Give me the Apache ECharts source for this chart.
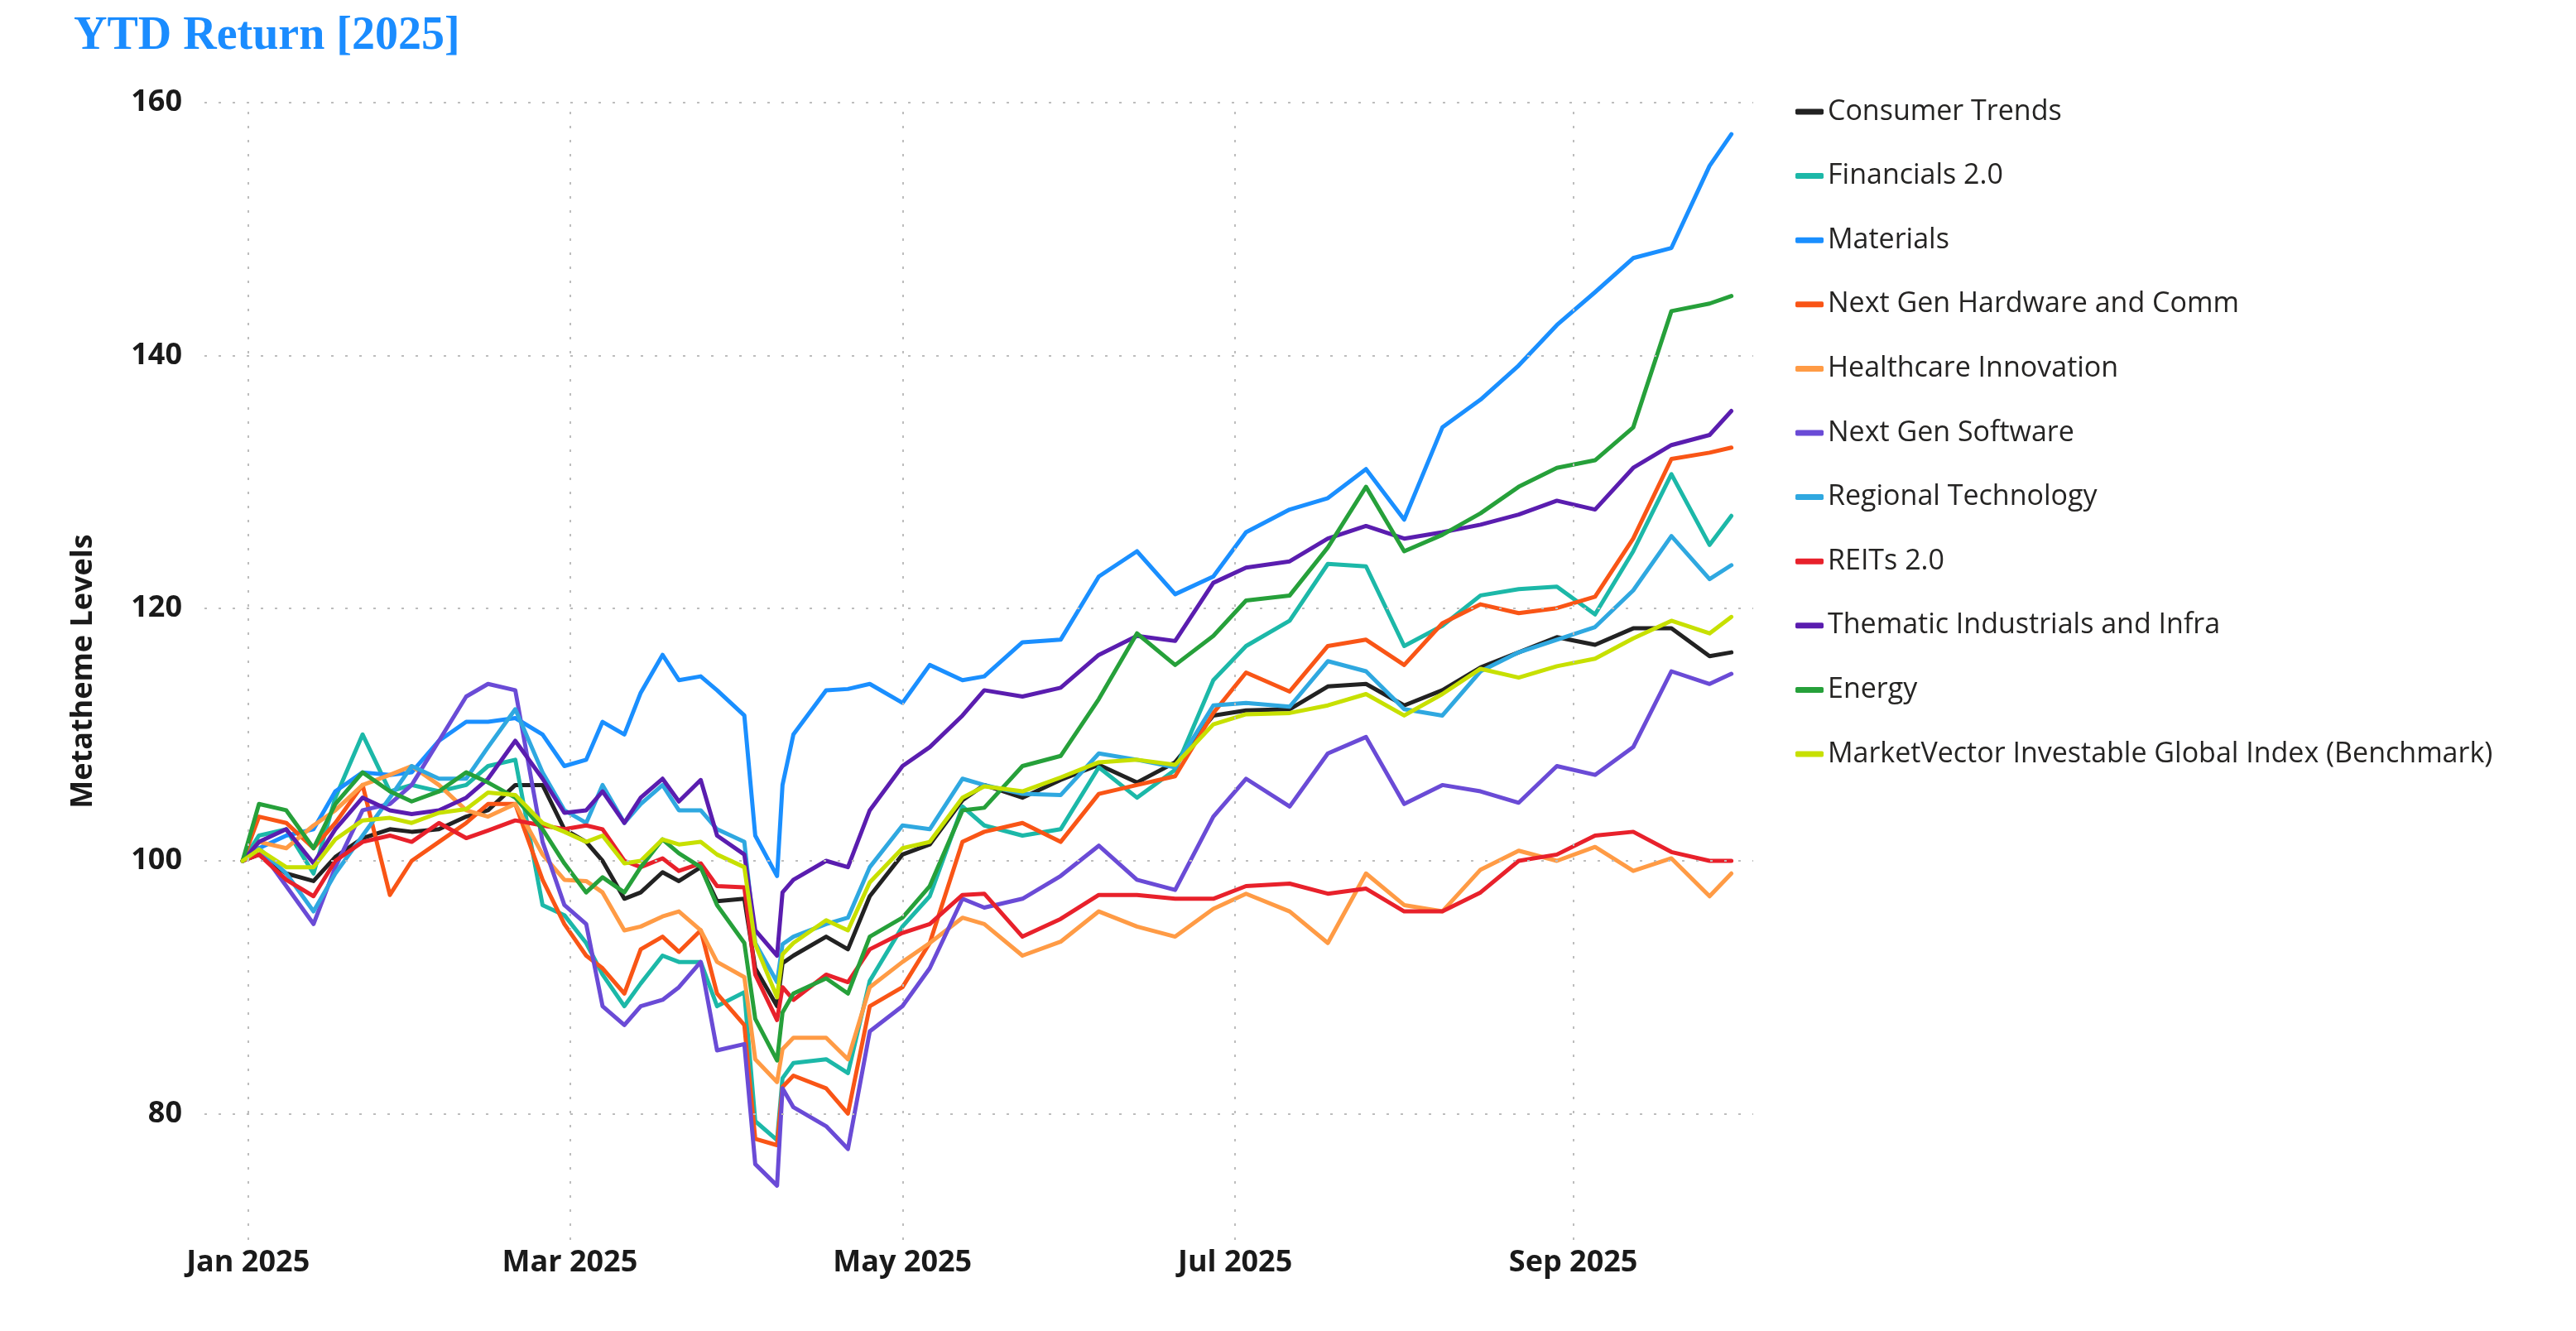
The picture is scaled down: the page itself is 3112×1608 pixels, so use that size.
<!DOCTYPE html>
<html>
<head>
<meta charset="utf-8">
<script src="https://cdn.jsdelivr.net/npm/echarts@6/dist/echarts.min.js"></script>
<style>
html,body{margin:0;padding:0;background:#fff;}
#c{width:3112px;height:1608px;}
</style>
</head>
<body>
<div id="c"></div>
<script>
// ---- data ----
const dates = ['2024-12-31','2025-01-03','2025-01-08','2025-01-13','2025-01-17','2025-01-22','2025-01-27','2025-01-31','2025-02-05','2025-02-10','2025-02-14','2025-02-19','2025-02-24','2025-02-28','2025-03-04','2025-03-07','2025-03-11','2025-03-14','2025-03-18','2025-03-21','2025-03-25','2025-03-28','2025-04-02','2025-04-04','2025-04-08','2025-04-09','2025-04-11','2025-04-17','2025-04-21','2025-04-25','2025-05-01','2025-05-06','2025-05-12','2025-05-16','2025-05-23','2025-05-30','2025-06-06','2025-06-13','2025-06-20','2025-06-27','2025-07-03','2025-07-11','2025-07-18','2025-07-25','2025-08-01','2025-08-08','2025-08-15','2025-08-22','2025-08-29','2025-09-05','2025-09-12','2025-09-19','2025-09-26','2025-09-30'];

const consumerTrends = [100,100.5,99,98.4,100.3,101.8,102.5,102.3,102.5,103.5,104,106,106,102.5,101.5,100,97,97.5,99.1,98.4,99.5,96.8,97,91.5,88.5,91.9,92.5,94,93,97.2,100.5,101.3,104.8,106,105,106.4,107.6,106.2,107.8,111.5,111.9,112,113.8,114,112.3,113.5,115.3,116.5,117.7,117.1,118.4,118.4,116.2,116.5];
const financials20 = [100,102,102.5,99,105,110,105.5,106,105.5,106,107.5,108,96.5,95.7,93.5,91,88.5,90.3,92.5,92,92,88.5,89.6,79.4,77.9,82.8,84,84.3,83.2,90.5,94.8,97.2,104.3,102.8,102,102.5,107.4,105,107.2,114.3,117,119,123.5,123.3,117,118.6,121,121.5,121.7,119.5,124.5,130.6,125,127.3];
const materials = [100,101,102,102.5,105.5,107,106.8,107,109.5,111,111,111.3,110,107.5,108,111,110,113.3,116.3,114.3,114.6,113.5,111.5,102,98.8,106,110,113.5,113.6,114,112.5,115.5,114.3,114.6,117.3,117.5,122.5,124.5,121.1,122.5,126,127.8,128.7,131,127,134.3,136.5,139.2,142.4,145,147.7,148.5,155,157.5];
const nextGenHardware = [100,103.5,103,101,103,106,97.3,100,101.5,103,104.5,104.5,98.5,95,92.5,91.5,89.5,93,94,92.8,94.5,89.5,87,78,77.5,82.1,83,82,80,88.5,90,93.5,101.5,102.3,103,101.5,105.3,106,106.7,111.7,114.9,113.4,117,117.5,115.5,118.8,120.3,119.6,120,120.9,125.5,131.8,132.3,132.7];
const healthcareInnovation = [100,101.5,101,102.8,104,106,106.8,107.5,106,104,103.5,104.5,100.5,98.5,98.4,97.5,94.5,94.8,95.6,96,94.5,92,90.8,84.3,82.5,85.1,86,86,84.3,90,92,93.5,95.5,95,92.5,93.6,96,94.8,94,96.2,97.4,96,93.5,99,96.5,96,99.3,100.8,100,101.1,99.2,100.2,97.2,99];
const nextGenSoftware = [100,101,98,95,99.5,104,104.5,106,109.5,113,114,113.5,101.5,96.5,95,88.5,87,88.5,89,90,92,85,85.5,76,74.3,82,80.5,79,77.2,86.5,88.5,91.5,97,96.3,97,98.8,101.2,98.5,97.7,103.5,106.5,104.3,108.5,109.8,104.5,106,105.5,104.6,107.5,106.8,109,115,114,114.8];
const regionalTechnology = [100,101,99,96,99,102,105,107.5,106.5,106.5,109,112,107,104,103,106,103,104.5,106,104,104,102.5,101.5,93.5,90.4,93.4,94,95,95.5,99.5,102.8,102.5,106.5,106,105.3,105.2,108.5,108,107.4,112.3,112.5,112.2,115.8,115,112,111.5,115,116.5,117.5,118.5,121.4,125.7,122.3,123.4];
const reits20 = [100,100.5,98.5,97.2,100,101.5,102,101.5,103,101.8,102.4,103.2,102.8,102.5,102.8,102.5,100,99.5,100.2,99.2,99.8,98,97.9,91,87.4,90,89,91,90.4,93,94.3,95,97.3,97.4,94,95.4,97.3,97.3,97,97,98,98.2,97.4,97.8,96,96,97.5,100,100.5,102,102.3,100.7,100,100];
const thematicIndustrials = [100,101.5,102.5,99.8,102.5,105,104,103.7,104,105,106.5,109.5,106.5,103.8,104,105.5,103,105,106.5,104.7,106.4,102,100.5,94.5,92.5,97.5,98.5,100,99.5,104,107.5,109,111.5,113.5,113,113.7,116.3,117.8,117.4,122,123.2,123.7,125.5,126.5,125.5,126,126.6,127.4,128.5,127.8,131.1,132.9,133.7,135.6];
const energy = [100,104.5,104,101,104.5,107,105.5,104.7,105.5,107,106.2,105,102.5,99.8,97.5,98.7,97.5,99.5,101.7,100.6,99.5,96.5,93.5,87.5,84.2,88,89.5,90.7,89.5,94,95.5,98,104,104.2,107.5,108.3,112.8,118,115.5,117.8,120.6,121,124.8,129.6,124.5,125.8,127.5,129.6,131.1,131.7,134.3,143.5,144.1,144.7];
const benchmark = [100,100.9,99.5,99.5,101.7,103.2,103.4,103,103.8,104.1,105.4,105.2,103,102.3,101.5,102,99.8,100,101.7,101.3,101.5,100.5,99.5,93.4,89.2,92.6,93.5,95.3,94.5,98.3,101,101.5,105,105.9,105.5,106.6,107.8,108,107.6,110.8,111.6,111.7,112.3,113.2,111.5,113.2,115.2,114.5,115.4,116,117.6,119,118,119.3];

const seriesNames = ['Consumer Trends','Financials 2.0','Materials','Next Gen Hardware and Comm','Healthcare Innovation','Next Gen Software','Regional Technology','REITs 2.0','Thematic Industrials and Infra','Energy','MarketVector Investable Global Index (Benchmark)'];
const seriesValues = [consumerTrends,financials20,materials,nextGenHardware,healthcareInnovation,nextGenSoftware,regionalTechnology,reits20,thematicIndustrials,energy,benchmark];
const seriesColors = ['#222222','#1CB8A8','#1A8FFF','#F95516','#FF9B45','#6A4BD6','#2FA8E0','#E8212B','#5A1DAF','#26A03A','#C7E000'];

const xTickDates = ['2025-01-01','2025-03-01','2025-05-01','2025-07-01','2025-09-01'];
const xTickLabels = ['Jan 2025','Mar 2025','May 2025','Jul 2025','Sep 2025'];
const yTicks = [80,100,120,140,160];

// ---- chart ----
function ts(s){ const p = s.split('-').map(Number); return Date.UTC(p[0], p[1]-1, p[2]); }
const xTickTs = xTickDates.map(ts);
const font = "'Open Sans', 'Noto Sans', sans-serif";

const gridLineStyle = {type:[3,14], color:'#BDBDBD', width:2};

const series = [{
  type:'line', name:'__grid', data:[], silent:true,
  markLine:{
    silent:true, symbol:['none','none'], animation:false,
    label:{show:false}, lineStyle:gridLineStyle, emphasis:{disabled:true},
    data: yTicks.map(v=>({yAxis:v})).concat(xTickTs.map(t=>({xAxis:t})))
  }
}];
seriesNames.forEach((n,i)=>{
  series.push({
    type:'line', name:n, showSymbol:false, symbol:'none',
    color:seriesColors[i],
    lineStyle:{width:5, color:seriesColors[i], cap:'round', join:'round'},
    data: dates.map((d,j)=>[ts(d), seriesValues[i][j]])
  });
});

const chart = echarts.init(document.getElementById('c'));
chart.setOption({
  animation:false,
  backgroundColor:'#ffffff',
  title:{
    text:'YTD Return [2025]', left:84, top:12,
    textStyle:{fontFamily:"'Liberation Serif', serif", fontWeight:'bold', fontSize:56, color:'#1A8CFF'}
  },
  legend:{
    orient:'vertical', left:2164, top:110,
    itemWidth:34, itemHeight:7, itemGap:37.6, icon:'roundRect',
    data:seriesNames,
    textStyle:{fontFamily:font, fontSize:34, color:'#252423', lineHeight:40}
  },
  grid:{left:247, right:994, top:124, bottom:110, containLabel:false},
  xAxis:{
    type:'value', min:ts('2024-12-24'), max:ts('2025-10-04'), scale:true,
    axisLine:{show:false}, axisTick:{show:false}, splitLine:{show:false},
    axisLabel:{
      customValues:xTickTs, margin:10, hideOverlap:false,
      fontFamily:font, fontWeight:'bold', fontSize:36, color:'#1a1a1a',
      formatter:function(v){ const k = xTickTs.indexOf(v); return k>=0 ? xTickLabels[k] : ''; }
    }
  },
  yAxis:{
    type:'value', min:70, max:160,
    name:'Metatheme Levels', nameLocation:'middle', nameGap:128,
    nameTextStyle:{fontFamily:font, fontWeight:'bold', fontSize:36, color:'#1a1a1a'},
    axisLine:{show:false}, axisTick:{show:false}, splitLine:{show:false},
    axisLabel:{customValues:yTicks, margin:27, fontFamily:font, fontWeight:'bold', fontSize:36, color:'#1a1a1a'}
  },
  series:series
});
</script>
</body>
</html>
